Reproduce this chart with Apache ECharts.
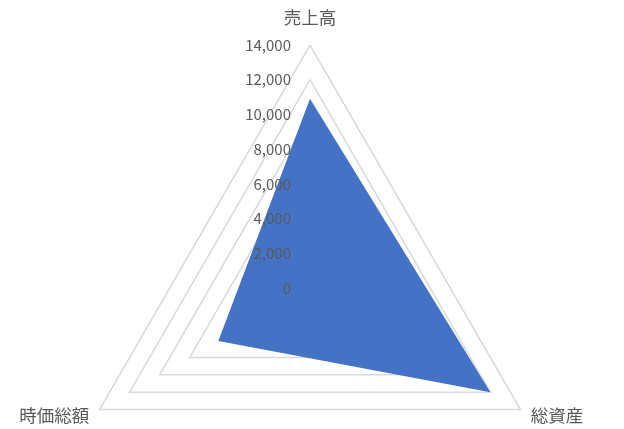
<!DOCTYPE html>
<html style="height: 100%">
<head>
  <meta charset="utf-8">
</head>
<body style="height: 100%; margin: 0; background: #fff">
  <div id="container" style="width: 624px; height: 429px"></div>

  <script type="text/javascript" src="https://cdn.jsdelivr.net/npm/echarts@6/dist/echarts.min.js"></script>

  <script type="text/javascript">
    // indicators in echarts order (counterclockwise from top)
    var indicatorNames = ['売上高', '時価総額', '総資産'];
    var values = [10900, 6100, 12000];
    var axisMax = 14000;
    var axisStep = 2000;

    var font = "'Noto Sans CJK JP', 'Noto Sans', sans-serif";
    var grey = '#595959';

    var dom = document.getElementById('container');
    var myChart = echarts.init(dom, null, { renderer: 'canvas' });

    var option = {
      backgroundColor: '#fff',
      animation: false,
      radar: {
        center: [310, 288],
        radius: 243,
        startAngle: 90,
        shape: 'polygon',
        splitNumber: axisMax / axisStep,
        indicator: indicatorNames.map(function (n) {
          return { name: n, min: 0, max: axisMax };
        }),
        axisName: { color: grey, fontSize: 17.5, fontFamily: font, padding: [0, 0, 7, 0] },
        nameGap: 12,
        axisLine: { show: false },
        axisTick: { show: false },
        axisLabel: { show: false },
        splitArea: { show: false },
        splitLine: { lineStyle: { color: '#d9d9d9', width: 1.5 } }
      },
      // value labels along the top axis, drawn over the filled area
      grid: { left: 310, top: 45, height: 243, width: 1, z: 10 },
      xAxis: { type: 'value', show: false },
      yAxis: {
        type: 'value',
        z: 10,
        min: 0,
        max: axisMax,
        interval: axisStep,
        axisLine: { show: false },
        axisTick: { show: false },
        splitLine: { show: false },
        axisLabel: {
          margin: 19,
          color: grey,
          fontSize: 15,
          fontFamily: font,
          formatter: function (v) { return v.toLocaleString('en-US'); }
        }
      },
      series: [{
        type: 'radar',
        symbol: 'none',
        z: 2,
        lineStyle: { width: 0 },
        areaStyle: { color: '#4472c4', opacity: 1 },
        data: [{ value: values }]
      }]
    };

    myChart.setOption(option);
  </script>
</body>
</html>
